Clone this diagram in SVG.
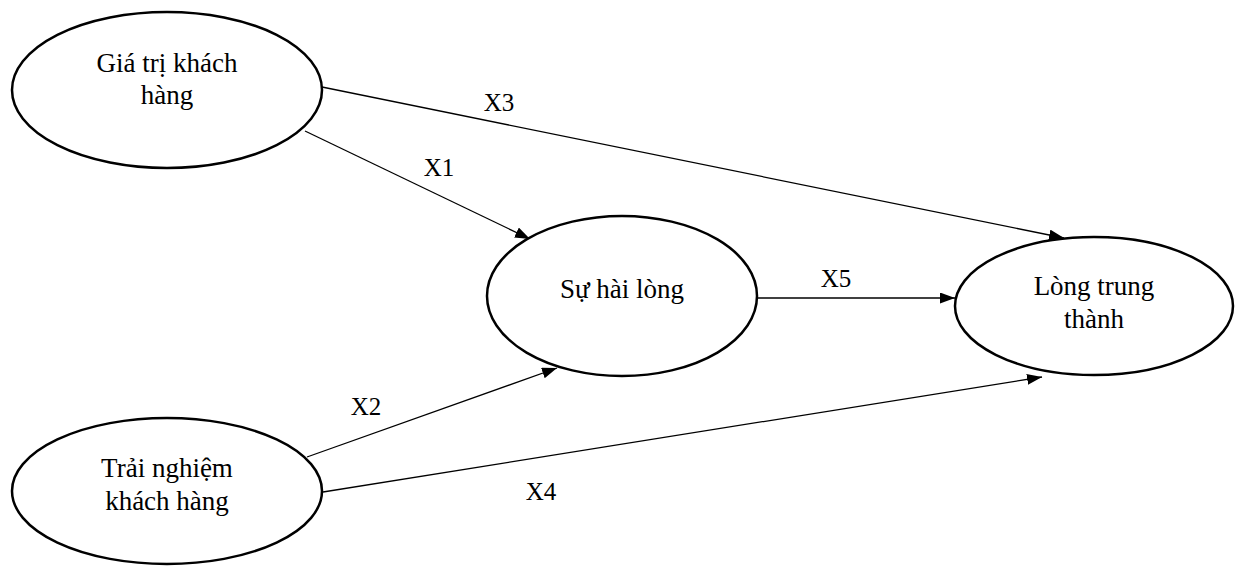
<svg xmlns="http://www.w3.org/2000/svg" width="1240" height="566" viewBox="0 0 1240 566">
<style>
.node{fill:#fff;stroke:#000;stroke-width:2.5}
.t{font-family:"Liberation Serif","Times New Roman",serif;font-size:27px;fill:#000;text-anchor:middle}
.lbl{font-family:"Liberation Serif","Times New Roman",serif;font-size:25px;fill:#000;text-anchor:middle}
.edge{stroke:#000;stroke-width:1.3;fill:none;marker-end:url(#ah)}
</style>
<defs>
<marker id="ah" markerUnits="userSpaceOnUse" markerWidth="15" markerHeight="11" refX="15" refY="5.5" orient="auto">
<path d="M0,0 L15,5.5 L0,11 z" fill="#000"/>
</marker>
</defs>
<rect width="1240" height="566" fill="#fff"/>
<g id="connectors">
<line class="edge" x1="322" y1="87" x2="1064" y2="238"/>
<line class="edge" x1="305" y1="131" x2="530" y2="239"/>
<line class="edge" x1="758" y1="298" x2="955" y2="298"/>
<line class="edge" x1="307" y1="457" x2="557" y2="368"/>
<line class="edge" x1="323" y1="492" x2="1042" y2="377"/>
<text class="lbl" x="499" y="111">X3</text>
<text class="lbl" x="439" y="176">X1</text>
<text class="lbl" x="836" y="287">X5</text>
<text class="lbl" x="366" y="415">X2</text>
<text class="lbl" x="541" y="500">X4</text>
</g>
<g id="gia-tri">
<ellipse class="node" cx="167" cy="90" rx="155" ry="78"/>
<text class="t" x="167" y="72">Giá trị khách</text>
<text class="t" x="167" y="104">hàng</text>
</g>
<g id="su-hai-long">
<ellipse class="node" cx="622" cy="296" rx="135" ry="80"/>
<text class="t" x="622" y="298">Sự hài lòng</text>
</g>
<g id="long-trung-thanh">
<ellipse class="node" cx="1094" cy="306" rx="139" ry="69"/>
<text class="t" x="1094" y="295">Lòng trung</text>
<text class="t" x="1094" y="328">thành</text>
</g>
<g id="trai-nghiem">
<ellipse class="node" cx="167" cy="491" rx="155" ry="73"/>
<text class="t" x="167" y="477">Trải nghiệm</text>
<text class="t" x="167" y="510">khách hàng</text>
</g>
</svg>
